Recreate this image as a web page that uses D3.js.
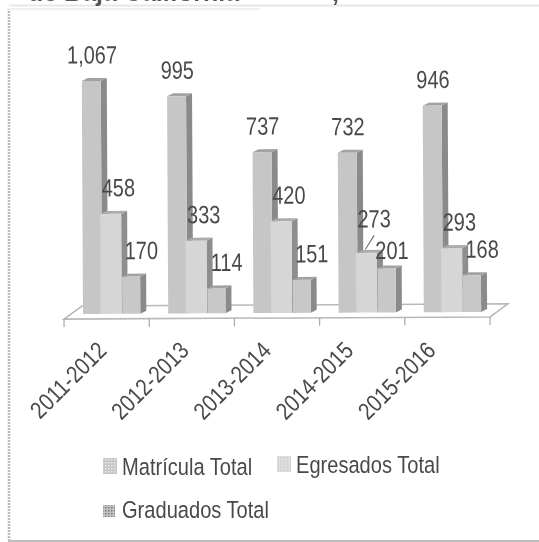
<!DOCTYPE html>
<html>
<head>
<meta charset="utf-8">
<script src="https://cdn.jsdelivr.net/npm/d3@7"></script>
<style>
    html, body { margin: 0; padding: 0; background: #fff; overflow: hidden; }
    text { font-family: "Liberation Sans", Arial, sans-serif; fill: #4a4a4a; }
</style>
</head>
<body>
<svg></svg>
<script>
//Chart data
var years = ["2011-2012", "2012-2013", "2013-2014", "2014-2015", "2015-2016"];
var seriesNames = ["Matrícula Total", "Egresados Total", "Graduados Total"];
var matricula = [1067, 995, 737, 732, 946];
var egresados = [458, 333, 420, 273, 293];
var graduados = [170, 114, 151, 201, 168];
var allSeries = [matricula, egresados, graduados];

//Dimensions and colors
var w = 539;
var h = 542;
var baseY = 313;
var depthX = 6;
var depthY = 3;
var floorBackX = 18;
var floorBackY = 13;
var frontColors = ["#c6c6c6", "#d6d6d6", "#c8c8c8"];
var sideColors = ["#8a8a8a", "#8e8e8e", "#8a8a8a"];
var topColors = ["#a2a2a2", "#ababab", "#a2a2a2"];
var barShift = [0, -3, -2];
var barWidth = [19, 21, 18];
var labelShiftX = [0, 5, 7];

var svg = d3.select("svg").attr("width", w).attr("height", h);
var defs = svg.append("defs");

//Soft edges like the scanned page
defs.append("filter").attr("id", "soft")
    .append("feGaussianBlur").attr("stdDeviation", 0.5);

//Patterns for the small legend squares
seriesNames.forEach(function (name, i) {
    var p = defs.append("pattern")
        .attr("id", "swatch" + i)
        .attr("width", 3).attr("height", 3)
        .attr("patternUnits", "userSpaceOnUse");
    p.append("rect").attr("width", 3).attr("height", 3).attr("fill", i == 2 ? "#c4c4c4" : frontColors[i]);
    p.append("rect").attr("width", 1.5).attr("height", 1.5).attr("fill", i == 2 ? "#777" : "#e6e6e6");
});

var x = d3.scaleBand().domain(years).range([64, 490]);
var xInner = d3.scaleBand().domain(d3.range(3)).range([19, 81]);
var y = d3.scaleLinear().domain([0, 1067]).range([baseY, 80]);
var xYear = d3.scalePoint().domain(years).range([108, 437]);

var page = svg.append("g").attr("filter", "url(#soft)");

//Frame around the chart
page.append("path")
    .attr("d", "M9,541V9")
    .attr("fill", "none")
    .attr("stroke", "#bcbcbc")
    .attr("stroke-width", 2.5)
    .attr("stroke-dasharray", "2 1");
page.append("path")
    .attr("d", "M9,9H260")
    .attr("stroke", "#efefef")
    .attr("stroke-width", 2);
page.append("path")
    .attr("d", "M8,541H539")
    .attr("stroke", "#bdbdbd")
    .attr("stroke-width", 2);
page.append("path")
    .attr("d", "M9,5.5H539")
    .attr("stroke", "#e8e8e8")
    .attr("stroke-width", 2);

//Title line cut off by the crop
page.append("text")
    .attr("x", 28).attr("y", 1)
    .attr("font-size", 25).attr("font-weight", "bold")
    .style("fill", "#555")
    .text("de Baja California");
page.append("text")
    .attr("x", 332).attr("y", 1)
    .attr("font-size", 25).attr("font-weight", "bold")
    .style("fill", "#555")
    .text(",");

//The whole plot leans a little because of the scan
var plot = page.append("g").attr("transform", "rotate(-0.3 277 313)");

//Floor of the 3D chart
var x0 = x.range()[0];
var x1 = x.range()[1];
var floorY = baseY + 5;
plot.append("path")
    .attr("d", "M" + x0 + "," + floorY
        + "L" + (x0 + floorBackX) + "," + (floorY - floorBackY)
        + "H" + (x1 + floorBackX)
        + "L" + x1 + "," + floorY + "Z")
    .attr("fill", "#fff")
    .attr("stroke", "#b8b8b8")
    .attr("stroke-width", 1.5);

//Tick marks on the front edge
plot.selectAll(".tick")
    .data(years.concat(["end"]))
    .enter().append("line")
    .attr("class", "tick")
    .attr("x1", function (d, i) { return x0 + i * x.step(); })
    .attr("x2", function (d, i) { return x0 + i * x.step(); })
    .attr("y1", floorY)
    .attr("y2", floorY + 8)
    .attr("stroke", "#a8a8a8")
    .attr("stroke-width", 1.2);

//Bars, each one a front, a side and a top face
years.forEach(function (year, yi) {
    allSeries.forEach(function (values, si) {
        var left = x(year) + xInner(si) + barShift[si];
        var bw = barWidth[si];
        var top = y(values[yi]);
        var bar = plot.append("g");
        bar.append("path")
            .attr("d", "M" + (left + bw) + "," + baseY
                + "V" + top
                + "l" + depthX + "," + (-depthY)
                + "V" + (baseY - depthY) + "Z")
            .attr("fill", sideColors[si]);
        bar.append("path")
            .attr("d", "M" + left + "," + top
                + "l" + depthX + "," + (-depthY)
                + "h" + bw
                + "l" + (-depthX) + "," + depthY + "Z")
            .attr("fill", topColors[si]);
        bar.append("rect")
            .attr("x", left)
            .attr("y", top)
            .attr("width", bw)
            .attr("height", baseY - top)
            .attr("fill", frontColors[si]);
    });
});

//Value labels, two of them were moved by hand in the original
function labelNudge(value) {
    if (value == 273) return { dx: 0, dy: -8 };
    if (value == 201) return { dx: -5, dy: 8 };
    return { dx: 0, dy: 0 };
}

years.forEach(function (year, yi) {
    allSeries.forEach(function (values, si) {
        var v = values[yi];
        var nudge = labelNudge(v);
        var cx = x(year) + xInner(si) + xInner.step() / 2 + labelShiftX[si] + nudge.dx;
        var by = y(v) - depthY - 14.5 + nudge.dy;
        if (v == 273) {
            plot.append("line")
                .attr("x1", cx).attr("y1", by + 8)
                .attr("x2", cx - 9).attr("y2", by + 22)
                .attr("stroke", "#666").attr("stroke-width", 1);
        }
        plot.append("text")
            .attr("transform", "translate(" + cx + "," + by + ") scale(0.8,1)")
            .attr("text-anchor", "middle")
            .attr("font-size", 25)
            .text(d3.format(",")(v));
    });
});

//Year labels
page.selectAll(".year")
    .data(years)
    .enter().append("text")
    .attr("class", "year")
    .attr("transform", function (d) {
        return "translate(" + xYear(d) + ",352) rotate(-45) scale(0.85,1)";
    })
    .attr("text-anchor", "end")
    .attr("font-size", 24)
    .text(function (d) { return d; });

//Legend
var legendX = [122, 296, 122];
var legendY = [475, 473, 518];
seriesNames.forEach(function (name, i) {
    page.append("rect")
        .attr("x", legendX[i] - 19)
        .attr("y", legendY[i] - (i == 2 ? 13 : 17))
        .attr("width", i == 2 ? 12 : 14)
        .attr("height", i == 2 ? 12 : 16)
        .attr("fill", "url(#swatch" + i + ")");
    page.append("text")
        .attr("transform", "translate(" + legendX[i] + "," + legendY[i] + ") scale(0.82,1)")
        .attr("font-size", 24.5)
        .text(name);
});
</script>
</body>
</html>
